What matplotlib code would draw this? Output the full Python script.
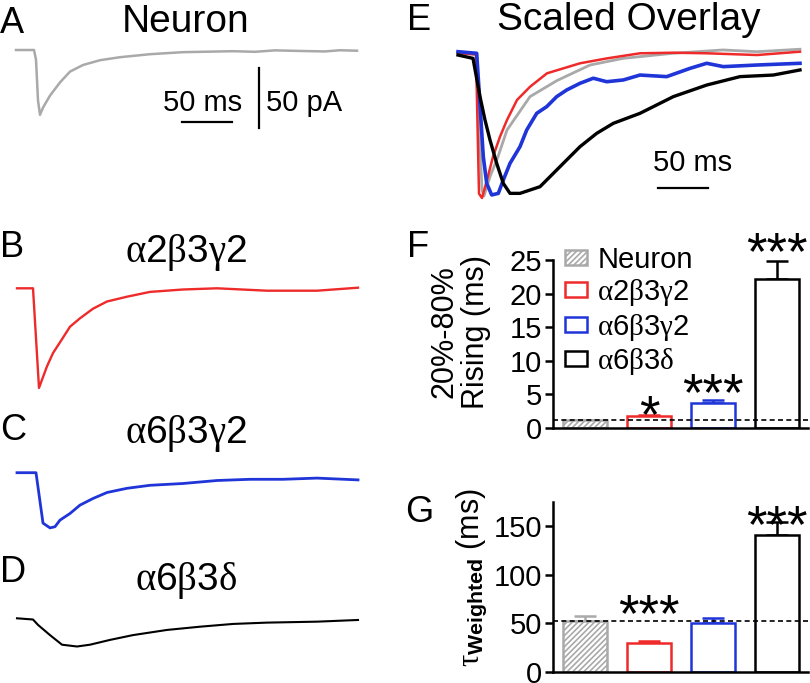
import numpy as np
import matplotlib
matplotlib.use('Agg')
import matplotlib.pyplot as plt
from matplotlib.patches import Patch

plt.rcParams['font.family'] = ['Liberation Sans', 'DejaVu Sans']
plt.rcParams['mathtext.fontset'] = 'custom'
plt.rcParams['mathtext.rm'] = 'Liberation Serif'
plt.rcParams['mathtext.it'] = 'Liberation Serif'
plt.rcParams['mathtext.bf'] = 'Liberation Sans:bold'
plt.rcParams['hatch.linewidth'] = 1.2

# ---------------- data ----------------
# example traces (time in ms, current in pA)
t_neuron = [1, 19, 21, 23, 25, 28, 35, 45, 55, 68, 85, 105, 135, 168, 218, 240, 260, 285, 310, 325, 342]
i_neuron = [0, 0, -8, -42, -54, -48, -38, -27, -18, -12.5, -8.5, -6, -3.5, -1.8, -1, -1.5, -0.3, -0.8, -1.2, -0.2, -0.6]

t_a2b3g2 = [2, 18, 24, 32, 38, 45, 55, 65, 78, 92, 112, 135, 168, 202, 252, 302, 343]
i_a2b3g2 = [0, 0, -83, -65, -54, -45, -32, -25, -17, -11, -7, -3, -1, 0, -2, -2, 0.5]

t_a6b3g2 = [2, 21, 28, 35, 40, 45, 55, 65, 78, 92, 112, 135, 168, 202, 235, 268, 302, 343]
i_a6b3g2 = [0, 0, -42, -46, -45, -39.5, -34, -27, -21.5, -16.5, -13, -10.5, -9, -6.5, -5.5, -5.5, -4.5, -6]

t_a6b3d = [2, 18, 23, 35, 47, 62, 75, 95, 118, 152, 185, 218, 252, 302, 343]
i_a6b3d = [0, -1, -5.5, -14, -22, -23.5, -22, -18, -14, -9.7, -7, -4.7, -3.6, -2.8, -1.4]

# scaled overlay (normalised amplitude)
ov_t_neuron = [0, 18, 24, 26, 32, 40, 49, 72, 99, 132, 165, 215, 265, 299, 342]
ov_a_neuron = [0, -0.01, -0.945, -0.986, -0.853, -0.715, -0.531, -0.301, -0.19, -0.083, -0.037, -0.002, 0.021, 0.009, 0.026]
ov_t_a2 = [0, 18, 21, 24, 29, 35, 42, 49, 59, 72, 89, 122, 149, 182, 215, 249, 299, 342]
ov_a_a2 = [0, -0.01, -0.97, -1.0, -0.876, -0.715, -0.577, -0.462, -0.324, -0.233, -0.14, -0.071, -0.037, -0.002, 0.002, -0.002, -0.014, 0.009]
ov_t_a6g = [0, 18.7, 25.3, 28.7, 33.7, 40.3, 45.3, 52, 62, 68.7, 78.7, 88.7, 98.7, 108.7, 122, 135.3, 148.7, 165.3, 182, 208.7, 232, 248.7, 265.3, 298.7, 342]
ov_a_a6g = [0.009, -0.002, -0.715, -0.899, -0.979, -0.968, -0.876, -0.761, -0.646, -0.531, -0.416, -0.370, -0.301, -0.255, -0.209, -0.174, -0.198, -0.186, -0.152, -0.163, -0.106, -0.071, -0.094, -0.083, -0.071]
ov_t_a6d = [0, 15, 22, 27, 32, 38.7, 45.3, 52, 62, 72, 82, 92, 105.3, 122, 138.7, 155.3, 182, 215.3, 248.7, 282, 315.3, 342]
ov_a_a6d = [-0.014, -0.037, -0.301, -0.462, -0.6, -0.761, -0.899, -0.968, -0.968, -0.945, -0.922, -0.853, -0.761, -0.646, -0.554, -0.485, -0.416, -0.301, -0.221, -0.163, -0.152, -0.117]

groups = ['Neuron', r'$\mathrm{\alpha}$2$\mathrm{\beta}$3$\mathrm{\gamma}$2',
          r'$\mathrm{\alpha}$6$\mathrm{\beta}$3$\mathrm{\gamma}$2',
          r'$\mathrm{\alpha}$6$\mathrm{\beta}$3$\mathrm{\delta}$']
colors = ['#a9a9a9', '#ee2a2a', '#1f35d8', '#000000']
rise_mean = [1.15, 1.8, 3.75, 22.2]
rise_sem = [0.1, 0.15, 0.4, 2.6]
rise_stars = ['', '*', '***', '***']
rise_star_y = [0, 1.44, 4.79, 25.77]
tau_mean = [52.5, 29.5, 50.7, 141]
tau_sem = [5, 2.5, 5, 13]
tau_stars = ['', '***', '', '***']
tau_star_y = [0, 56.3, 0, 148.4]

# ---------------- layout helpers ----------------
W, H = 810, 683
fig = plt.figure(figsize=(8.1, 6.83), dpi=100)


def px_axes(x, y, w, h):
    return fig.add_axes([x / W, 1 - (y + h) / H, w / W, h / H])


def ftext(x, y, s, **kw):
    return fig.text(x / W, 1 - y / H, s, **kw)


def trace_axes(x, y, w, h, t0, base, xs, ys):
    ax = px_axes(x, y, w, h)
    ax.set_xlim((x - t0) / xs, (x + w - t0) / xs)
    ax.set_ylim(-(y + h - base) / ys, (base - y) / ys)
    ax.axis('off')
    return ax

LBL = 26
TTL = 28

# ---------------- panel A-D traces ----------------
axA = trace_axes(0, 38, 400, 100, 15, 50, 1, 1.2)
axA.plot(t_neuron, i_neuron, color=colors[0], lw=1.8)
axA.plot([167, 217], [-60, -60], color='k', lw=1.6)
axA.plot([244, 244], [-15, -65], color='k', lw=1.6)
axA.text(188, -44, '50 ms', ha='center', va='center', fontsize=21)
axA.text(251, -44, '50 pA', ha='left', va='center', fontsize=21)

axB = trace_axes(0, 270, 400, 130, 15, 288.3, 1, 1.2)
axB.plot(t_a2b3g2, i_a2b3g2, color=colors[1], lw=1.7)

axC = trace_axes(0, 455, 400, 90, 15, 472.7, 1, 1.2)
axC.plot(t_a6b3g2, i_a6b3g2, color=colors[2], lw=2.0)

axD = trace_axes(0, 600, 400, 70, 15, 618.3, 1, 1.2)
axD.plot(t_a6b3d, i_a6b3d, color=colors[3], lw=1.5)

ftext(0, 33, 'A', fontsize=LBL, va='baseline')
ftext(186, 32, 'Neuron', fontsize=TTL, ha='center', va='baseline')
ftext(0, 257, 'B', fontsize=LBL, va='baseline')
ftext(186, 262, groups[1], fontsize=TTL, ha='center', va='baseline')
ftext(0, 440, 'C', fontsize=LBL, va='baseline')
ftext(186, 443, groups[2], fontsize=TTL, ha='center', va='baseline')
ftext(0, 582, 'D', fontsize=LBL, va='baseline')
ftext(186, 590, groups[3], fontsize=TTL, ha='center', va='baseline')

# ---------------- panel E overlay ----------------
axE = trace_axes(440, 38, 370, 170, 458, 53, 1, 145)
axE.plot(ov_t_neuron, ov_a_neuron, color=colors[0], lw=2.0)
axE.plot(ov_t_a2, ov_a_a2, color=colors[1], lw=1.8)
axE.plot(ov_t_a6g, ov_a_a6g, color=colors[2], lw=2.6)
axE.plot(ov_t_a6d, ov_a_a6d, color=colors[3], lw=2.4)
axE.plot([200, 250], [-0.931, -0.931], color='k', lw=1.6)
axE.text(235, -0.76, '50 ms', ha='center', va='center', fontsize=21)
ftext(407, 30, 'E', fontsize=LBL, va='baseline')
ftext(629, 30, 'Scaled Overlay', fontsize=TTL, ha='center', va='baseline')


# ---------------- bar panels ----------------
def style_bar_axes(ax, ymax, yticks):
    ax.set_xlim(-0.5, 3.48)
    ax.set_ylim(0, ymax)
    ax.set_yticks(yticks)
    for s in ['top', 'right']:
        ax.spines[s].set_visible(False)
    for s in ['left', 'bottom']:
        ax.spines[s].set_linewidth(1.8)
    ax.set_xticks([])
    ax.tick_params(axis='y', direction='out', length=6, width=1.8, labelsize=21, pad=2)


def draw_bars(ax, means, sems, stars, star_y):
    for i in range(len(means)):
        if i == 0:
            ax.bar(i, means[i], width=0.69, facecolor='white', edgecolor=colors[i],
                   hatch='//////', lw=1.8, zorder=2)
        else:
            ax.bar(i, means[i], width=0.69, facecolor='white', edgecolor=colors[i],
                   lw=1.8, zorder=2)
        ax.errorbar(i, means[i], yerr=[[0], [sems[i]]], fmt='none', ecolor=colors[i],
                    elinewidth=1.8, capsize=8, capthick=1.8, zorder=1)
        if stars[i]:
            ax.text(i, star_y[i], stars[i], ha='center', va='center', fontsize=38,
                    clip_on=False)
    ax.axhline(means[0], color='k', lw=1.2, ls=(0, (3, 2)), zorder=3)


axF = px_axes(553, 260, 255, 168)
style_bar_axes(axF, 25, [0, 5, 10, 15, 20, 25])
draw_bars(axF, rise_mean, rise_sem, rise_stars, rise_star_y)
handles = [Patch(facecolor='white', edgecolor=colors[0], hatch='//////', lw=1.8)] + \
          [Patch(facecolor='white', edgecolor=c, lw=1.8) for c in colors[1:]]
axF.legend(handles, groups, loc='upper left', bbox_to_anchor=(0.047, 1.085),
           frameon=False, fontsize=21, handlelength=0.76, handleheight=0.42,
           handletextpad=0.35, labelspacing=0.12, borderpad=0, borderaxespad=0)
ftext(407, 257, 'F', fontsize=LBL, va='baseline')
ftext(460, 332, '20%-80%\nRising (ms)', fontsize=22, rotation=90, ha='center',
      va='center', multialignment='center', linespacing=1.05)

axG = px_axes(553, 502, 255, 170)
style_bar_axes(axG, 175, [0, 50, 100, 150])
draw_bars(axG, tau_mean, tau_sem, tau_stars, tau_star_y)
ftext(405, 522, 'G', fontsize=LBL, va='baseline')
ftext(472, 578, r'$\mathrm{\tau}_{\mathbf{Weighted}}$ (ms)', fontsize=22, rotation=90,
      ha='center', va='center')

fig.savefig('out.png', dpi=100)
